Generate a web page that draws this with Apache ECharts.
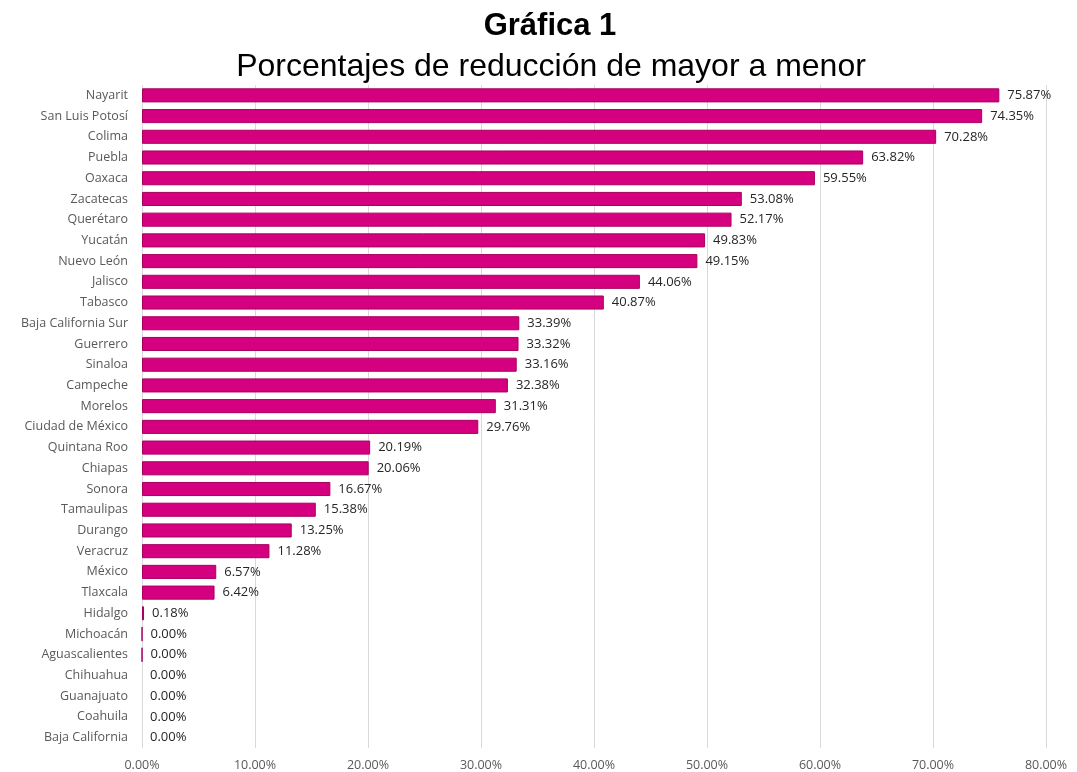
<!DOCTYPE html>
<html lang="es">
<head>
<meta charset="UTF-8">
<title>Gráfica 1</title>
<script src="https://cdn.jsdelivr.net/npm/echarts@6/dist/echarts.min.js"></script>
<style>
  html, body { margin: 0; padding: 0; background: #fff; }
  #main { width: 1077px; height: 772px; }
</style>
</head>
<body>
<div id="main"></div>
<script>
// estados, de mayor a menor
var estados = ['Nayarit', 'San Luis Potosí', 'Colima', 'Puebla', 'Oaxaca', 'Zacatecas',
  'Querétaro', 'Yucatán', 'Nuevo León', 'Jalisco', 'Tabasco', 'Baja California Sur',
  'Guerrero', 'Sinaloa', 'Campeche', 'Morelos', 'Ciudad de México', 'Quintana Roo',
  'Chiapas', 'Sonora', 'Tamaulipas', 'Durango', 'Veracruz', 'México', 'Tlaxcala',
  'Hidalgo', 'Michoacán', 'Aguascalientes', 'Chihuahua', 'Guanajuato', 'Coahuila',
  'Baja California'];
var reduccion = [75.87, 74.35, 70.28, 63.82, 59.55, 53.08, 52.17, 49.83, 49.15, 44.06,
  40.87, 33.39, 33.32, 33.16, 32.38, 31.31, 29.76, 20.19, 20.06, 16.67, 15.38, 13.25,
  11.28, 6.57, 6.42, 0.18, 0.003, 0.003, 0, 0, 0, 0];
var ticksX = [0, 10, 20, 30, 40, 50, 60, 70, 80];

// los ceros no llevan borde
var datos = reduccion.map(function (v) {
  return v > 0 ? v : { value: v, itemStyle: { borderWidth: 0 } };
});

var myChart = echarts.init(document.getElementById('main'));
myChart.setOption({
  animation: false,
  title: [{
    text: 'Gráfica 1',
    left: 545, top: 6, textAlign: 'center',
    textStyle: { fontFamily: 'Liberation Sans', fontSize: 31, fontWeight: 'bold', color: '#000' }
  }, {
    text: 'Porcentajes de reducción de mayor a menor',
    left: 546, top: 46, textAlign: 'center',
    textStyle: { fontFamily: 'Liberation Sans', fontSize: 32, fontWeight: 'normal', color: '#000' }
  }],
  grid: { left: 142, right: 31, top: 85, bottom: 24, containLabel: false },
  xAxis: {
    type: 'value',
    min: ticksX[0], max: ticksX[ticksX.length - 1], interval: 10,
    axisLine: { show: false },
    axisTick: { show: false },
    splitLine: { lineStyle: { color: '#d9d9d9', width: 1 } },
    axisLabel: {
      margin: 11,
      color: '#595959', fontFamily: 'Open Sans', fontSize: 12.5,
      formatter: function (v) { return v.toFixed(2) + '%'; }
    }
  },
  yAxis: {
    type: 'category',
    inverse: true,
    data: estados,
    axisLine: { show: false },
    axisTick: { show: false },
    axisLabel: { margin: 14, color: '#595959', fontFamily: 'Open Sans', fontSize: 12.5 }
  },
  series: [{
    type: 'bar',
    data: datos,
    barCategoryGap: '32%',
    itemStyle: { color: '#d5007f', borderColor: '#a8005f', borderWidth: 1 },
    label: {
      show: true, position: 'right', distance: 8,
      color: '#262626', fontFamily: 'Open Sans', fontSize: 13,
      formatter: function (p) { return p.value.toFixed(2) + '%'; }
    }
  }]
});
</script>
</body>
</html>
